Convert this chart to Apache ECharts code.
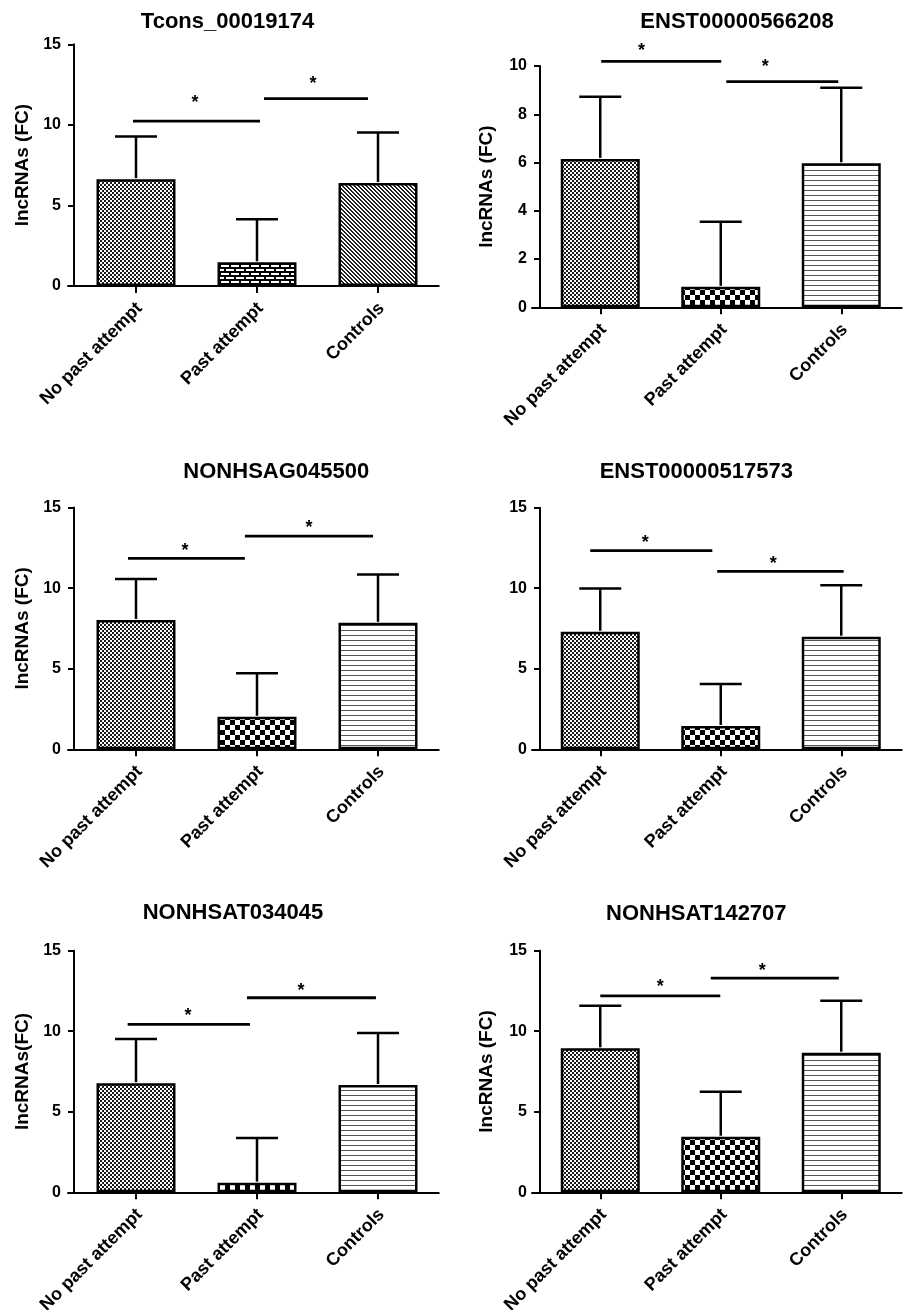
<!DOCTYPE html>
<html><head><meta charset="utf-8">
<script src="https://cdn.jsdelivr.net/npm/echarts@6/dist/echarts.min.js"></script>
<style>html,body{margin:0;padding:0;background:#fff}#c{width:907px;height:1310px}</style>
</head><body><div id="c"></div>
<script>
// ---------------- data ----------------
const categories = ['No past attempt', 'Past attempt', 'Controls'];
const titles = ['Tcons_00019174', 'ENST00000566208', 'NONHSAG045500', 'ENST00000517573', 'NONHSAT034045', 'NONHSAT142707'];
const yLabels = ['lncRNAs (FC)', 'lncRNAs (FC)', 'lncRNAs (FC)', '', 'lncRNAs(FC)', 'lncRNAs (FC)'];
const yMax = [15, 10, 15, 15, 15, 15];
const yInterval = [5, 2, 5, 5, 5, 5];
// bar means (FC)
const means = [
  [6.63, 1.47, 6.39],
  [6.15, 0.85, 5.97],
  [8.02, 2.02, 7.85],
  [7.30, 1.45, 6.99],
  [6.77, 0.60, 6.66],
  [8.94, 3.45, 8.67]
];
// top of error bars (mean + SD)
const upper = [
  [9.28, 4.15, 9.53],
  [8.73, 3.55, 9.10],
  [10.56, 4.71, 10.85],
  [9.99, 4.05, 10.18],
  [9.52, 3.37, 9.89],
  [11.58, 6.24, 11.89]
];
// significance bars: [start category pos, end category pos, y, star category pos, star y]
const sigLines = [
  [[-0.025, 1.025, 10.23, 0.488, 11.6], [1.058, 1.917, 11.63, 1.463, 12.77]],
  [[0.008, 1.004, 10.19, 0.343, 10.79], [1.046, 1.975, 9.35, 1.369, 10.12]],
  [[-0.066, 0.90, 11.84, 0.405, 12.57], [0.90, 1.959, 13.22, 1.43, 13.98]],
  [[-0.083, 0.93, 12.33, 0.373, 13.05], [0.971, 2.02, 11.05, 1.436, 11.74]],
  [[-0.069, 0.942, 10.43, 0.43, 11.19], [0.917, 1.983, 12.08, 1.364, 12.76]],
  [[0.0, 0.996, 12.2, 0.498, 12.99], [0.917, 1.98, 13.3, 1.344, 14.0]]
];
const patternKinds = [
  ['fine', 'brick', 'diag'],
  ['fine', 'checker', 'hlines'],
  ['fine', 'checker', 'hlines'],
  ['fine', 'checker', 'hlines'],
  ['fine', 'checker', 'hlines'],
  ['fine', 'checker', 'hlines']
];

// ---------------- layout ----------------
const FONT = '"Liberation Sans", Arial, Helvetica, sans-serif';
const gridBox = [
  {left: 75.5, top: 44.3, width: 363, height: 241.7, axisX: 74, extLeft: 68},
  {left: 540, top: 66, width: 361.5, height: 241.3, axisX: 540, extLeft: 532},
  {left: 75.5, top: 507.5, width: 363, height: 241.8, axisX: 74, extLeft: 68},
  {left: 540, top: 507.7, width: 361.5, height: 241.6, axisX: 540, extLeft: 532},
  {left: 75.5, top: 950.7, width: 363, height: 241.6, axisX: 74, extLeft: 68},
  {left: 540, top: 950.7, width: 361.5, height: 241.6, axisX: 540, extLeft: 532}
];
const titlePos = [[227.5, 21.7], [737, 22.2], [276.3, 471.7], [696.3, 471.7], [233, 913], [696.3, 914.2]];
const nameGaps = [40, 44, 40, 44, 40, 44];

function makePattern(kind) {
  const c = document.createElement('canvas');
  const ctx = c.getContext('2d');
  if (kind === 'fine') {
    c.width = 4; c.height = 4;
    ctx.fillStyle = '#fff'; ctx.fillRect(0, 0, 4, 4);
    ctx.fillStyle = '#1a1a1a'; ctx.fillRect(0, 0, 2, 2); ctx.fillRect(2, 2, 2, 2);
  } else if (kind === 'checker') {
    c.width = 10; c.height = 10;
    ctx.fillStyle = '#fff'; ctx.fillRect(0, 0, 10, 10);
    ctx.fillStyle = '#000'; ctx.fillRect(0, 0, 5, 5); ctx.fillRect(5, 5, 5, 5);
  } else if (kind === 'hlines') {
    c.width = 4; c.height = 5;
    ctx.fillStyle = '#fff'; ctx.fillRect(0, 0, 4, 5);
    ctx.fillStyle = '#555'; ctx.fillRect(0, 0, 4, 1);
  } else if (kind === 'diag') {
    c.width = 4; c.height = 4;
    ctx.fillStyle = '#fff'; ctx.fillRect(0, 0, 4, 4);
    ctx.fillStyle = '#222';
    for (let i = 0; i < 4; i++) { ctx.fillRect(i, i, 1, 1); ctx.fillRect((i + 1) % 4, i, 1, 1); }
  } else if (kind === 'brick') {
    c.width = 10; c.height = 8;
    ctx.fillStyle = '#000'; ctx.fillRect(0, 0, 10, 8);
    ctx.fillStyle = '#fff';
    ctx.fillRect(1, 1, 8, 2);
    ctx.fillRect(6, 5, 4, 2); ctx.fillRect(0, 5, 4, 2);
  }
  return c;
}

const grids = [], xAxes = [], yAxes = [], series = [], graphics = [];
const axisBlack = {color: '#000', width: 2};

for (let i = 0; i < 6; i++) {
  const g = gridBox[i];
  // main grid
  grids.push({left: g.left, top: g.top, width: g.width, height: g.height, containLabel: false, outerBoundsMode: 'none'});
  xAxes.push({
    gridIndex: 2 * i, type: 'category', data: categories,
    axisLine: {show: true, onZero: false, lineStyle: axisBlack},
    axisTick: {show: true, alignWithLabel: true, length: 7, lineStyle: axisBlack},
    axisLabel: {show: true, interval: 0, rotate: 45, margin: 16, verticalAlign: 'top', lineHeight: 10,
      color: '#000', fontSize: 18, fontWeight: 'bold', fontFamily: FONT, hideOverlap: false},
    splitLine: {show: false}
  });
  yAxes.push({
    gridIndex: 2 * i, type: 'value', min: 0, max: yMax[i], interval: yInterval[i],
    offset: g.left - g.axisX,
    axisLine: {show: true, lineStyle: axisBlack},
    axisTick: {show: true, length: 6, lineStyle: axisBlack},
    axisLabel: {color: '#000', fontSize: 16, fontWeight: 'bold', fontFamily: FONT, margin: 13},
    splitLine: {show: false},
    name: yLabels[i], nameLocation: 'middle', nameRotate: 90, nameGap: nameGaps[i] + (g.left - g.axisX),
    nameMoveOverlap: false,
    nameTextStyle: {color: '#000', fontSize: 19, fontWeight: 'bold', fontFamily: FONT}
  });
  // extension grid: x-axis line reaching a little left of the y-axis
  const extW = g.left + g.width - g.extLeft;
  grids.push({left: g.extLeft, top: g.top, width: extW, height: g.height, containLabel: false, outerBoundsMode: 'none'});
  xAxes.push({
    gridIndex: 2 * i + 1, type: 'value', min: 0, max: 1,
    axisLine: {show: true, onZero: false, lineStyle: axisBlack},
    axisTick: {show: false}, axisLabel: {show: false}, splitLine: {show: false}
  });
  yAxes.push({gridIndex: 2 * i + 1, type: 'value', min: 0, max: 1, show: false});

  const pats = patternKinds[i].map(makePattern);
  series.push({
    type: 'bar', xAxisIndex: 2 * i, yAxisIndex: 2 * i, barWidth: 79, silent: true, z: 2,
    data: means[i].map((v, k) => ({value: v, itemStyle: {color: {image: pats[k], repeat: 'repeat'}}})),
    itemStyle: {borderColor: '#000', borderWidth: 2.5}
  });
  // error bars
  series.push({
    type: 'custom', xAxisIndex: 2 * i, yAxisIndex: 2 * i, clip: false, silent: true, z: 3,
    data: means[i].map((m, k) => [k, m, upper[i][k]]),
    encode: {x: 0, y: 1},
    renderItem: function (params, api) {
      const bot = api.coord([api.value(0), api.value(1)]);
      const top = api.coord([api.value(0), api.value(2)]);
      return {type: 'group', children: [
        {type: 'line', shape: {x1: bot[0], y1: bot[1] - 1, x2: top[0], y2: top[1]}, style: {stroke: '#000', lineWidth: 2.5}},
        {type: 'line', shape: {x1: top[0] - 21, y1: top[1], x2: top[0] + 21, y2: top[1]}, style: {stroke: '#000', lineWidth: 2.5}}
      ]};
    }
  });
  // significance bars and stars
  series.push({
    type: 'custom', xAxisIndex: 2 * i, yAxisIndex: 2 * i, clip: false, silent: true, z: 4,
    data: sigLines[i].map(s => [0, s[2], s[0], s[1], s[3], s[4]]),
    encode: {x: 0, y: 1},
    renderItem: function (params, api) {
      const y = api.value(1);
      const c0 = api.coord([0, y]);
      const c1 = api.coord([1, y]);
      const step = c1[0] - c0[0];
      const xa = c0[0] + api.value(2) * step;
      const xb = c0[0] + api.value(3) * step;
      const sx = c0[0] + api.value(4) * step;
      const sy = api.coord([0, api.value(5)])[1];
      return {type: 'group', children: [
        {type: 'line', shape: {x1: xa, y1: c0[1], x2: xb, y2: c0[1]}, style: {stroke: '#000', lineWidth: 2.8}},
        {type: 'text', x: sx, y: sy + 4, style: {text: '*', fill: '#000', font: 'bold 18px ' + FONT, textAlign: 'center', textVerticalAlign: 'middle'}}
      ]};
    }
  });
  graphics.push({
    type: 'text', x: titlePos[i][0], y: titlePos[i][1], silent: true,
    style: {text: titles[i], fill: '#000', font: 'bold 22px ' + FONT, textAlign: 'center', textVerticalAlign: 'middle'}
  });
}

const chart = echarts.init(document.getElementById('c'), null, {renderer: 'canvas'});
chart.setOption({
  backgroundColor: '#fff',
  animation: false,
  grid: grids, xAxis: xAxes, yAxis: yAxes, series: series, graphic: graphics
});
</script></body></html>
